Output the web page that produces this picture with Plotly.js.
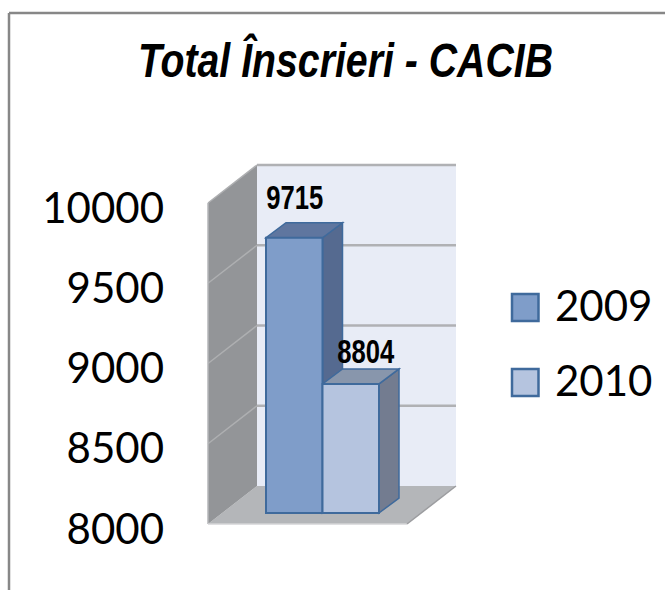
<!DOCTYPE html>
<html><head><meta charset="utf-8">
<script src="https://cdn.plot.ly/plotly-3.0.1.min.js"></script>
<style>html,body{margin:0;padding:0;background:#fff}#c{width:665px;height:590px}</style>
</head><body><div id="c"></div>
<script>
const titleText = 'Total Înscrieri - CACIB';
const category = ['Total'];
const seriesNames = ['2009', '2010'];
const values2009 = [9715];
const values2010 = [8804];
const tickVals = [8000, 8500, 9000, 9500, 10000];
const baseValue = 8000;

const W = 665, H = 590;
const PX_PER_UNIT = 0.1605, PX_PER_X = 199;
const X0 = 322.5, Y0 = 513;               // pixel of category centre / base value
const AX_L = 200, AX_R = 470, AX_T = 150, AX_B = 535;
const dX = px => px / PX_PER_X;
const dY = px => px / PX_PER_UNIT;
const frontX = dX(208 - X0), widthX = dX(199);
const wallD = [dX(49), dY(38)];
const frontShift = dY(-11);
const barW = dX(56.5), barD = [dX(20), dY(15)];
const fillC = ['#7f9dc9', '#b5c4df'], sideC = ['#556a90', '#737c90'], topC = ['#5f769f', '#8896ac'];
const edge = '#3f6a9c';

const poly = (pts, fill, line, lw) => ({
  type: 'path', xref: 'x', yref: 'y', layer: 'below',
  path: 'M' + pts.map(p => p[0] + ',' + p[1]).join('L') + 'Z',
  fillcolor: fill, line: {color: line || fill, width: lw === undefined ? 0 : lw}
});
const seg = (a, b, color, w) => ({type: 'line', xref: 'x', yref: 'y', layer: 'below',
  x0: a[0], y0: a[1], x1: b[0], y1: b[1], line: {color, width: w}});

const yF0 = baseValue + frontShift, yF1 = 10000 + frontShift;
const xL = frontX, xR = frontX + widthX;
const shapes = [];
// back wall, floor, side wall
shapes.push(poly([[xL + wallD[0], yF0 + wallD[1]], [xR + wallD[0], yF0 + wallD[1]], [xR + wallD[0], yF1 + wallD[1]], [xL + wallD[0], yF1 + wallD[1]]], '#e8ecf6'));
shapes.push(poly([[xL, yF0], [xR, yF0], [xR + wallD[0], yF0 + wallD[1]], [xL + wallD[0], yF0 + wallD[1]]], '#b4b6b9'));
shapes.push(poly([[xL, yF0], [xL + wallD[0], yF0 + wallD[1]], [xL + wallD[0], yF1 + wallD[1]], [xL, yF1]], '#939598'));
tickVals.forEach((t, i) => {
  const y = t + frontShift;
  if (i > 0) shapes.push(seg([xL + wallD[0], y + wallD[1]], [xR + wallD[0], y + wallD[1]], '#b0b1b4', 2.5));
  if (i > 0) shapes.push(seg([xL, y], [xL + wallD[0], y + wallD[1]], '#aeafb1', 1.5));
});
shapes.push(seg([xL, yF0], [xL, yF1], '#b5b6b8', 1.5));
shapes.push(seg([xL, yF0], [xR, yF0], '#d4d5d7', 1.5));
shapes.push(seg([xR, yF0], [xR + wallD[0], yF0 + wallD[1]], '#9c9da0', 1.5));
// bar depth faces
[values2009[0], values2010[0]].forEach((v, i) => {
  const l = -barW + i * barW, r = l + barW;
  shapes.push(poly([[r, baseValue], [r + barD[0], baseValue + barD[1]], [r + barD[0], v + barD[1]], [r, v]], sideC[i], edge, 1.5));
  shapes.push(poly([[l, v], [r, v], [r + barD[0], v + barD[1]], [l + barD[0], v + barD[1]]], topC[i], edge, 1.5));
});
// frame
const paperLine = (x0, y0, x1, y1) => ({type: 'line', xref: 'paper', yref: 'paper', layer: 'below',
  x0: x0 / W, x1: x1 / W, y0: 1 - y0 / H, y1: 1 - y1 / H, line: {color: '#878787', width: 2.5}});
shapes.push(paperLine(9, 13, W, 13), paperLine(9, 13, 9, H));
// legend keys
[294, 369].forEach((py, i) => shapes.push({type: 'rect', xref: 'paper', yref: 'paper', layer: 'above',
  x0: 512 / W, x1: 538.5 / W, y0: 1 - py / H, y1: 1 - (py + 27) / H,
  fillcolor: fillC[i], line: {color: edge, width: 2.5}}));

const numFont = {family: '"Liberation Sans",sans-serif', size: 33, color: '#000', weight: 700};
const annotations = [
  {xref: 'x', yref: 'y', x: -barW / 2, y: values2009[0], yshift: 40, xshift: 0, text: String(values2009[0]), showarrow: false, font: numFont},
  {xref: 'x', yref: 'y', x: barW / 2, y: values2010[0], yshift: 32, xshift: 15, text: String(values2010[0]), showarrow: false, font: numFont}
];
[305, 380].forEach((py, i) => annotations.push({xref: 'paper', yref: 'paper', x: 553 / W, y: 1 - py / H, xanchor: 'left', yanchor: 'middle',
  text: seriesNames[i], showarrow: false, font: {family: 'Lato, sans-serif', size: 42, color: '#000'}}));

const traces = [values2009, values2010].map((vals, i) => ({
  type: 'bar', name: seriesNames[i], x: category,
  y: vals.map(v => v - baseValue), base: baseValue,
  customdata: vals, hovertemplate: '%{customdata}<extra>' + seriesNames[i] + '</extra>',
  marker: {color: fillC[i], line: {color: edge, width: 2}}
}));

Plotly.newPlot('c', traces, {
  width: W, height: H, margin: {l: 0, r: 0, t: 0, b: 0},
  paper_bgcolor: '#fff', plot_bgcolor: 'rgba(0,0,0,0)',
  showlegend: false, barmode: 'group', bargap: 1 - 2 * barW, bargroupgap: 0,
  title: {text: titleText, x: 345.5 / W, xanchor: 'center', y: 1 - 60 / H, yanchor: 'middle',
    font: {family: '"Liberation Sans",sans-serif', size: 48, color: '#000', weight: 700, style: 'italic'}},
  xaxis: {type: 'category', domain: [AX_L / W, AX_R / W], range: [dX(AX_L - X0), dX(AX_R - X0)],
    showgrid: false, zeroline: false, showline: false, showticklabels: false, ticks: ''},
  yaxis: {domain: [1 - AX_B / H, 1 - AX_T / H], range: [baseValue - dY(AX_B - Y0), baseValue + dY(Y0 - AX_T)],
    anchor: 'free', position: 164 / W, tickmode: 'array', tickvals: tickVals, ticktext: tickVals.map(String),
    ticklabelshift: 16, showgrid: false, zeroline: false, showline: false, ticks: '',
    tickfont: {family: 'Lato, sans-serif', size: 42, color: '#000'}},
  shapes, annotations
}, {displayModeBar: false, staticPlot: true}).then(() => {
  // The reference uses condensed lettering: narrow the real text to its measured width.
  const narrow = (sel, w) => document.querySelectorAll(sel).forEach(t => {
    t.setAttribute('textLength', w); t.setAttribute('lengthAdjust', 'spacingAndGlyphs');
  });
  narrow('.gtitle', 415);
  narrow('.annotation-text[data-unformatted="9715"], .annotation-text[data-unformatted="8804"]', 57);
});
</script></body></html>
